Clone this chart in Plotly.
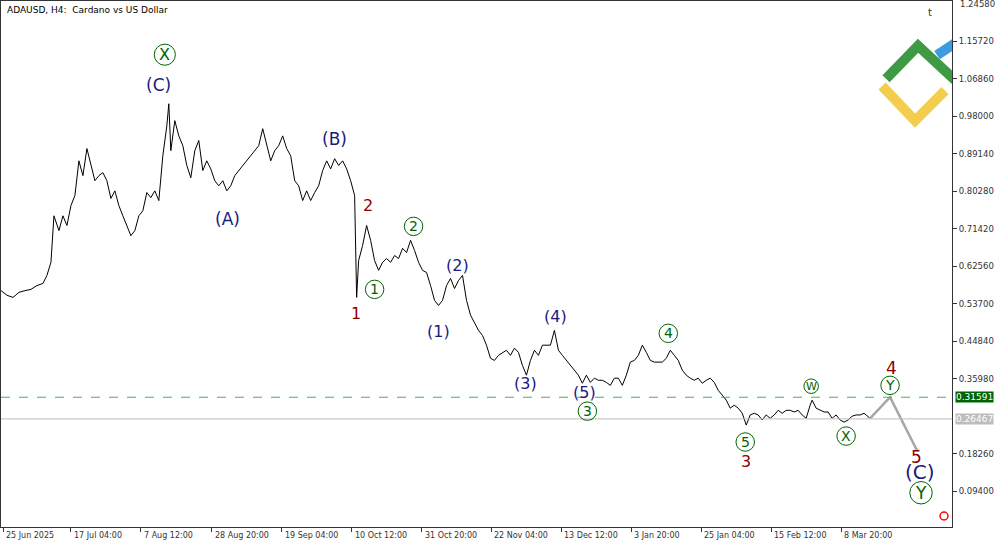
import plotly.graph_objects as go

# bar index (H4 bars, compressed) and close price
bar = [0, 6, 12, 18, 24, 30, 36, 42, 46, 50, 53, 58, 62, 66, 70, 74, 78, 82, 86, 90,
       94, 98, 102, 106, 110, 114, 118, 122, 126, 130, 134, 138, 142, 146, 150, 154, 158, 162, 166, 168,
       170, 174, 178, 182, 186, 190, 194, 198, 202, 206, 210, 214, 218, 222, 226, 230, 234, 238, 242, 246,
       250, 254, 258, 262, 266, 270, 274, 278, 282, 286, 290, 294, 298, 302, 306, 310, 314, 318, 322, 326,
       330, 334, 338, 342, 346, 350, 354, 356, 358, 362, 366, 370, 374, 378, 382, 386, 390, 394, 398, 402,
       406, 410, 414, 418, 422, 426, 430, 434, 438, 442, 446, 450, 454, 458, 462, 466, 470, 474, 478, 482,
       486, 490, 494, 498, 502, 506, 510, 514, 518, 522, 526, 530, 534, 538, 542, 546, 550, 554, 558, 562,
       566, 570, 574, 578, 582, 586, 590, 594, 598, 602, 606, 610, 614, 618, 622, 626, 630, 634, 638, 642,
       646, 650, 654, 658, 662, 666, 670, 674, 678, 682, 686, 690, 694, 698, 702, 706, 710, 714, 718, 722,
       726, 730, 734, 738, 742, 746, 750, 754, 758, 762, 766, 770, 774, 778, 782, 786, 790, 794, 798, 802,
       806, 810, 812, 816, 820, 824, 828, 832, 836, 840, 844, 848, 852, 856, 860, 864, 870]
price = [0.568, 0.557, 0.552, 0.564, 0.568, 0.571, 0.580, 0.585, 0.604, 0.635, 0.745, 0.710, 0.745, 0.722, 0.769, 0.793, 0.875, 0.840, 0.904, 0.864,
         0.828, 0.840, 0.847, 0.828, 0.786, 0.804, 0.769, 0.745, 0.722, 0.698, 0.710, 0.745, 0.757, 0.800, 0.788, 0.804, 0.781, 0.887, 0.958, 1.010,
         0.899, 0.970, 0.934, 0.911, 0.864, 0.835, 0.899, 0.923, 0.852, 0.875, 0.856, 0.828, 0.816, 0.828, 0.804, 0.816, 0.840, 0.852, 0.864, 0.875,
         0.887, 0.899, 0.911, 0.951, 0.911, 0.875, 0.899, 0.911, 0.934, 0.904, 0.887, 0.828, 0.816, 0.781, 0.804, 0.781, 0.800, 0.816, 0.852, 0.875,
         0.856, 0.880, 0.864, 0.875, 0.856, 0.828, 0.793, 0.552, 0.639, 0.675, 0.722, 0.687, 0.639, 0.616, 0.635, 0.644, 0.635, 0.651, 0.644, 0.668,
         0.658, 0.687, 0.663, 0.635, 0.616, 0.611, 0.580, 0.545, 0.533, 0.545, 0.580, 0.597, 0.573, 0.592, 0.604, 0.545, 0.510, 0.493, 0.474, 0.462,
         0.439, 0.408, 0.403, 0.415, 0.420, 0.427, 0.415, 0.432, 0.422, 0.391, 0.368, 0.403, 0.427, 0.415, 0.439, 0.439, 0.439, 0.474, 0.427, 0.415,
         0.403, 0.391, 0.380, 0.368, 0.349, 0.368, 0.351, 0.361, 0.356, 0.356, 0.351, 0.344, 0.361, 0.361, 0.344, 0.368, 0.399, 0.403, 0.415, 0.439,
         0.422, 0.403, 0.399, 0.399, 0.399, 0.408, 0.427, 0.415, 0.403, 0.380, 0.368, 0.361, 0.356, 0.361, 0.349, 0.356, 0.361, 0.351, 0.332, 0.321,
         0.309, 0.290, 0.297, 0.290, 0.278, 0.250, 0.274, 0.278, 0.274, 0.262, 0.274, 0.266, 0.274, 0.285, 0.278, 0.285, 0.285, 0.281, 0.285, 0.274,
         0.266, 0.297, 0.309, 0.290, 0.285, 0.281, 0.281, 0.266, 0.274, 0.262, 0.257, 0.262, 0.271, 0.274, 0.274, 0.278, 0.266]

forecast_bar = [870, 890, 917]
forecast_price = [0.266, 0.316, 0.190]

level_green = 0.31591
level_last = 0.26467

y_ticks = [1.2458, 1.1572, 1.0686, 0.98, 0.8914, 0.8028, 0.7142, 0.6256, 0.537, 0.4484, 0.3598, 0.1826, 0.094]
x_tick_pos = [2, 70, 140, 211, 281, 351, 421, 491, 561, 631, 701, 771, 841]
x_tick_text = ["25 Jun 2025", "17 Jul 04:00", "7 Aug 12:00", "28 Aug 20:00", "19 Sep 04:00", "10 Oct 12:00",
               "31 Oct 20:00", "22 Nov 04:00", "13 Dec 12:00", "3 Jan 20:00", "25 Jan 04:00", "15 Feb 12:00",
               "8 Mar 20:00"]

# wave labels: (text, bar, price, colour, circled, size)
NAVY, RED, GREEN = "#1a1a80", "#8b0000", "#006400"
waves = [
    ("X", 164, 1.126, GREEN, True, 16),
    ("(C)", 158, 1.055, NAVY, False, 17),
    ("(A)", 227, 0.738, NAVY, False, 17),
    ("(B)", 334, 0.927, NAVY, False, 17),
    ("2", 367, 0.769, RED, False, 16),
    ("1", 355, 0.514, RED, False, 16),
    ("1", 374, 0.571, GREEN, True, 14),
    ("2", 413, 0.720, GREEN, True, 14),
    ("(2)", 457, 0.628, NAVY, False, 16),
    ("(1)", 438, 0.472, NAVY, False, 16),
    ("(4)", 555, 0.507, NAVY, False, 16),
    ("(3)", 525, 0.349, NAVY, False, 16),
    ("(5)", 584, 0.328, NAVY, False, 16),
    ("3", 587, 0.283, GREEN, True, 14),
    ("4", 668, 0.467, GREEN, True, 14),
    ("5", 745, 0.210, GREEN, True, 14),
    ("3", 746, 0.163, RED, False, 16),
    ("W", 811, 0.342, GREEN, True, 11),
    ("X", 846, 0.224, GREEN, True, 14),
    ("4", 891, 0.384, RED, False, 17),
    ("Y", 890, 0.344, GREEN, True, 14),
    ("5", 916, 0.175, RED, False, 17),
    ("(C)", 920, 0.139, NAVY, False, 20),
    ("Y", 921, 0.090, GREEN, True, 17),
]

fig = go.Figure()
fig.add_trace(go.Scatter(x=bar, y=price, mode="lines", line=dict(color="black", width=1), hoverinfo="skip"))
fig.add_trace(go.Scatter(x=forecast_bar, y=forecast_price, mode="lines",
                         line=dict(color="#a6a6a6", width=2.5), hoverinfo="skip"))

shapes = [
    dict(type="line", xref="paper", x0=0, x1=1, y0=level_green, y1=level_green,
         line=dict(color="#4caf50", width=1, dash="dash")),
    dict(type="line", xref="paper", x0=0, x1=1, y0=level_last, y1=level_last,
         line=dict(color="#bdbdbd", width=1)),
    # logo strokes
    dict(type="path", path="M 882,1.052 L 915,0.970 L 945,1.041", line=dict(color="#f2cd4e", width=10)),
    dict(type="path", path="M 886,1.069 L 918,1.147 L 955,1.066", line=dict(color="#3f9a46", width=10)),
    dict(type="line", x0=937, y0=1.125, x1=958, y1=1.158, line=dict(color="#3d9be0", width=10)),
    dict(type="circle", xsizemode="pixel", ysizemode="pixel", xanchor=944, yanchor=0.035,
         x0=-4, x1=4, y0=-4, y1=4, line=dict(color="red", width=1.5)),
]
annotations = [
    dict(text="ADAUSD, H4:  Cardano vs US Dollar", xref="paper", yref="paper", x=0.004, y=0.997,
         xanchor="left", yanchor="top", showarrow=False, font=dict(size=9, color="black")),
    dict(text="t", x=930, y=1.225, showarrow=False, font=dict(size=10, color="#333")),
    dict(text="1.24580", xref="paper", x=1.006, xanchor="left", y=1.2458, yanchor="middle",
         showarrow=False, font=dict(size=8.5, color="#333")),
]
for s, xb, yp, col, circ, sz in waves:
    annotations.append(dict(text=s, x=xb, y=yp, showarrow=False, font=dict(size=sz, color=col)))
    if circ:
        r = sz * 0.66
        shapes.append(dict(type="circle", xsizemode="pixel", ysizemode="pixel", xanchor=xb, yanchor=yp,
                           x0=-r, x1=r, y0=-r, y1=r, line=dict(color=GREEN, width=1)))
for xp, t in zip(x_tick_pos, x_tick_text):
    annotations.append(dict(text=t, x=xp + 1, xanchor="left", yref="paper", y=-0.004, yanchor="top",
                            showarrow=False, font=dict(size=8, color="#333")))
for val, bg, fg in [(level_green, "#006400", "white"), (level_last, "#bdbdbd", "white")]:
    annotations.append(dict(text=f"{val:.5f}", xref="paper", x=1.003, xanchor="left", y=val,
                            showarrow=False, bgcolor=bg, font=dict(size=9, color=fg), borderpad=0))

fig.update_layout(
    width=1000, height=545, margin=dict(l=1, r=48, t=1, b=18, autoexpand=False),
    plot_bgcolor="white", paper_bgcolor="white", showlegend=False,
    font=dict(family="DejaVu Sans", size=9, color="#333"),
    xaxis=dict(range=[0, 952], tickvals=x_tick_pos, ticktext=[""] * len(x_tick_pos), ticks="outside",
               ticklen=4, tickcolor="#333", showgrid=False, zeroline=False, automargin=False,
               showline=True, linecolor="#333", mirror=True),
    yaxis=dict(range=[0.009, 1.253], side="right", tickvals=y_ticks[1:], automargin=False,
               ticktext=[f"{v:.5f}" for v in y_ticks[1:]], ticks="outside", ticklen=4, tickcolor="#333",
               tickfont=dict(size=8.5),
               showgrid=False, zeroline=False, showline=True, linecolor="#333", mirror=True),
    shapes=shapes, annotations=annotations,
)
fig.write_html("out.html", config={"displayModeBar": False},
               post_script="document.body.style.margin='0px';")
